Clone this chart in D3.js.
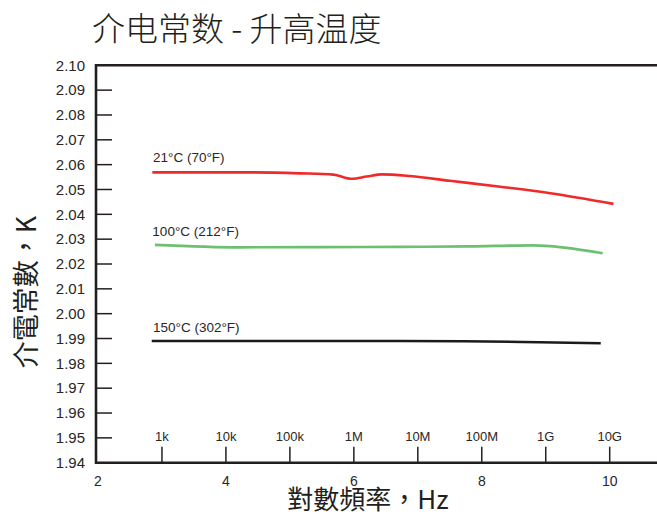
<!DOCTYPE html>
<html>
<head>
<meta charset="utf-8">
<script src="https://cdn.jsdelivr.net/npm/d3@7"></script>
<style>
  html, body { margin: 0; padding: 0; background: #fff; }
  svg { display: block; }
  .lat { font-family: "Liberation Sans", Arial, sans-serif; fill: #2a2627; }
</style>
</head>
<body>
<svg id="chart" width="657" height="516"></svg>
<script>
// ---- data ----
const titleText = "介电常数 - 升高温度";
const xTitle = "對數頻率，Hz";
const yTitle = "介電常數，K";

const yTickValues = [1.94, 1.95, 1.96, 1.97, 1.98, 1.99, 2.00, 2.01, 2.02, 2.03, 2.04, 2.05, 2.06, 2.07, 2.08, 2.09, 2.10];
const freqTickValues = [3, 4, 5, 6, 7, 8, 9, 10];
const freqTickLabels = ["1k", "10k", "100k", "1M", "10M", "100M", "1G", "10G"];
const logTickValues = [2, 4, 6, 8, 10];

const seriesNames = ["21°C (70°F)", "100°C (212°F)", "150°C (302°F)"];
const seriesColors = ["#ee2a2a", "#6cc070", "#1c1a1a"];

const logF21 = [2.85, 3.6, 4.4, 5.16, 5.68, 5.97, 6.2, 6.44, 6.88, 7.5, 8.29, 9.07, 10.06];
const k21    = [2.0569, 2.0569, 2.0569, 2.0565, 2.0560, 2.0543, 2.0552, 2.0561, 2.0554, 2.0535, 2.0511, 2.0485, 2.0442];

const logF100 = [2.89, 4.22, 5.5, 6.72, 7.8, 8.80, 9.89];
const k100    = [2.0277, 2.0267, 2.0268, 2.0269, 2.0271, 2.0275, 2.0243];

const logF150 = [2.84, 4.5, 6.0, 7.71, 8.91, 9.86];
const k150    = [1.9890, 1.9890, 1.9890, 1.9889, 1.9885, 1.9881];

// ---- drawing ----
const svg = d3.select("#chart");
const frameLeft = 96, frameRight = 657, frameTop = 65.3, frameBottom = 462.7;

const x = d3.scaleLinear().domain([2, 10]).range([98, 609.7]);
const y = d3.scaleLinear().domain([1.94, 2.10]).range([frameBottom, frameTop]);

// title
svg.append("text")
  .attr("x", 92).attr("y", 41)
  .attr("font-family", "'Noto Sans CJK SC', sans-serif")
  .attr("font-weight", 300)
  .attr("font-size", 33)
  .attr("fill", "#231f20")
  .text(titleText);

// y tick labels
svg.append("g").selectAll("text")
  .data(yTickValues).join("text")
  .attr("class", "lat")
  .attr("x", 85)
  .attr("y", d => y(d) + 5.3)
  .attr("text-anchor", "end")
  .attr("font-size", 15)
  .text(d => d.toFixed(2));

// y ticks (inward)
svg.append("g").selectAll("line")
  .data(yTickValues.filter(d => d > 1.945 && d < 2.095)).join("line")
  .attr("x1", frameLeft).attr("x2", frameLeft + 16)
  .attr("y1", d => y(d)).attr("y2", d => y(d))
  .attr("stroke", "#231f20").attr("stroke-width", 1.5);

// frequency ticks (upward from bottom)
svg.append("g").selectAll("line")
  .data(freqTickValues).join("line")
  .attr("x1", d => x(d)).attr("x2", d => x(d))
  .attr("y1", frameBottom - 16).attr("y2", frameBottom)
  .attr("stroke", "#231f20").attr("stroke-width", 1.5);

svg.append("g").selectAll("text")
  .data(freqTickValues).join("text")
  .attr("class", "lat")
  .attr("x", d => x(d))
  .attr("y", 441)
  .attr("text-anchor", "middle")
  .attr("font-size", 13)
  .text((d, i) => freqTickLabels[i]);

// log ticks below axis
svg.append("g").selectAll("text")
  .data(logTickValues).join("text")
  .attr("class", "lat")
  .attr("x", d => x(d))
  .attr("y", 486)
  .attr("text-anchor", "middle")
  .attr("font-size", 14)
  .text(d => d);

// frame lines
const frame = svg.append("g").attr("stroke", "#231f20").attr("stroke-width", 2.6).attr("fill", "none");
frame.append("path").attr("d", `M${frameRight},${frameTop}H${frameLeft}V${frameBottom}H${frameRight}`);

// series
const line = d3.line().x(d => x(d[0])).y(d => y(d[1])).curve(d3.curveMonotoneX);
const series = [
  d3.zip(logF21, k21),
  d3.zip(logF100, k100),
  d3.zip(logF150, k150)
];
svg.append("g").selectAll("path")
  .data(series).join("path")
  .attr("d", line)
  .attr("fill", "none")
  .attr("stroke", (d, i) => seriesColors[i])
  .attr("stroke-width", 2.6);

// series labels
const labelPos = [[2.86, 2.0610], [2.85, 2.0314], [2.86, 1.9925]];
svg.append("g").selectAll("text")
  .data(seriesNames).join("text")
  .attr("class", "lat")
  .attr("x", (d, i) => x(labelPos[i][0]))
  .attr("y", (d, i) => y(labelPos[i][1]))
  .attr("font-size", 13.5)
  .text(d => d);

// axis titles
svg.append("text")
  .attr("x", 368).attr("y", 509)
  .attr("text-anchor", "middle")
  .attr("font-family", "'Noto Sans CJK TC', sans-serif")
  .attr("font-size", 26)
  .attr("fill", "#231f20")
  .text(xTitle);

svg.append("text")
  .attr("transform", "translate(36,292) rotate(-90)")
  .attr("text-anchor", "middle")
  .attr("font-family", "'Noto Sans CJK TC', sans-serif")
  .attr("font-size", 27)
  .attr("fill", "#231f20")
  .text(yTitle);
</script>
</body>
</html>
